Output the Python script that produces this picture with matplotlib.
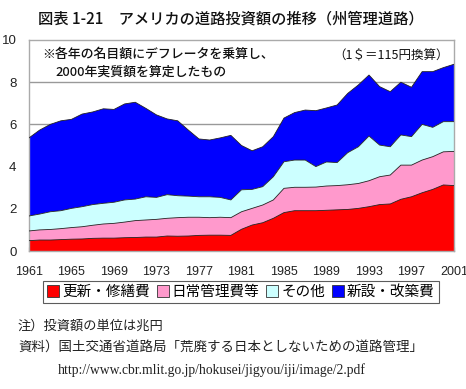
import matplotlib
matplotlib.use("Agg")
import matplotlib.pyplot as plt
from matplotlib.lines import Line2D
import numpy as np

years = list(range(1961, 2002))
# cumulative tops (兆円)
red_top = [0.49, 0.52, 0.52, 0.54, 0.56, 0.57, 0.60, 0.61, 0.61, 0.63, 0.64, 0.66, 0.66, 0.71, 0.70,
           0.71, 0.74, 0.75, 0.75, 0.74, 1.03, 1.23, 1.34, 1.55, 1.82, 1.91, 1.91, 1.91, 1.93, 1.95,
           1.97, 2.02, 2.10, 2.20, 2.23, 2.45, 2.57, 2.76, 2.92, 3.13, 3.10]
pink_top = [0.95, 1.00, 1.02, 1.06, 1.11, 1.15, 1.22, 1.28, 1.31, 1.37, 1.44, 1.47, 1.50, 1.55, 1.58,
            1.60, 1.60, 1.58, 1.60, 1.58, 1.86, 2.02, 2.18, 2.42, 2.97, 3.02, 3.02, 3.03, 3.08, 3.10,
            3.14, 3.20, 3.33, 3.52, 3.60, 4.07, 4.07, 4.31, 4.47, 4.70, 4.72]
cyan_top = [1.66, 1.75, 1.86, 1.91, 2.02, 2.10, 2.20, 2.26, 2.31, 2.42, 2.46, 2.57, 2.54, 2.67, 2.62,
            2.60, 2.57, 2.57, 2.54, 2.42, 2.90, 2.92, 3.05, 3.52, 4.23, 4.31, 4.31, 4.00, 4.22, 4.19,
            4.66, 4.94, 5.45, 5.02, 4.94, 5.50, 5.42, 6.00, 5.86, 6.13, 6.13]
blue_top = [5.36, 5.73, 6.00, 6.17, 6.24, 6.49, 6.59, 6.74, 6.71, 6.97, 7.05, 6.76, 6.45, 6.26, 6.17,
            5.73, 5.31, 5.26, 5.36, 5.48, 5.00, 4.75, 4.94, 5.42, 6.30, 6.56, 6.68, 6.65, 6.78, 6.92,
            7.47, 7.87, 8.34, 7.79, 7.55, 8.00, 7.76, 8.50, 8.50, 8.69, 8.85]

series_names = ["更新・修繕費", "日常管理費等", "その他", "新設・改築費"]
series_colors = ["#FF0000", "#FF99CC", "#CCFFFF", "#0000FF"]
x_ticks = list(range(1961, 2002, 4))
y_ticks = [0, 2, 4, 6, 8, 10]

plt.rcParams['font.family'] = ['Noto Sans CJK JP', 'DejaVu Sans']

fig = plt.figure(figsize=(4.66, 3.89), dpi=100)
W, H = 466, 389
ax = fig.add_axes([29 / W, 1 - 251 / H, (454 - 29) / W, (251 - 40) / H])

x = np.array(years)
tops = [np.array(red_top), np.array(pink_top), np.array(cyan_top), np.array(blue_top)]
bottoms = [np.zeros(len(years))] + tops[:-1]
for i in range(3, -1, -1):
    ax.fill_between(x, bottoms[i], tops[i], facecolor=series_colors[i], edgecolor='none', zorder=2)
for t in tops:
    ax.plot(x, t, color='#222222', lw=0.6, zorder=3)

ax.set_xlim(1961, 2001)
ax.set_ylim(0, 10)
ax.set_yticks(y_ticks)
ax.set_yticklabels([str(v) for v in y_ticks], family='Liberation Sans', fontsize=9.5, color='#222222')
ax.set_xticks(x_ticks)
ax.set_xticklabels([str(v) for v in x_ticks], family='Liberation Sans', fontsize=9, color='#222222')
ax.set_xticks(years, minor=True)
ax.tick_params(axis='y', length=0, pad=9)
ax.tick_params(axis='x', which='both', direction='in', length=3, color='#8B0000', pad=11)
for g in [2, 4, 6, 8]:
    ax.axhline(g, color='#999999', lw=1.0, zorder=1)
for s in ax.spines.values():
    s.set_color('#AAAAAA')
    s.set_linewidth(1.0)


def px_text(px, py, s, **kw):
    fig.text(px / W, 1 - py / H, s, **kw)


px_text(231, 19, "図表 1-21　アメリカの道路投資額の推移（州管理道路）", ha='center', va='center',
        fontsize=11, color='#111111', weight='medium')
px_text(42, 54, "※各年の名目額にデフレータを乗算し、", ha='left', va='center', fontsize=9.3,
        color='#111111', weight='medium')
px_text(55, 72, "2000年実質額を算定したもの", ha='left', va='center', fontsize=9.3,
        color='#111111', weight='medium')
px_text(449, 55, "（1＄＝115円換算）", ha='right', va='center', fontsize=9, color='#111111')

handles = [Line2D([], [], marker='s', linestyle='none', markersize=8,
                  markerfacecolor=c, markeredgecolor='#333333', markeredgewidth=0.6)
           for c in series_colors]
leg = fig.legend(handles, series_names, loc='center', bbox_to_anchor=(241 / W, 1 - 292 / H),
                 ncol=4, frameon=True, fancybox=False, fontsize=10.5, handlelength=0.8,
                 handletextpad=0.2, columnspacing=0.5, borderpad=0.3, borderaxespad=0)
leg.get_frame().set_edgecolor('#333333')
leg.get_frame().set_linewidth(0.8)

px_text(18, 326, "注）投資額の単位は兆円", ha='left', va='center', fontsize=9.5, color='#222222')
px_text(18, 347, "資料）国土交通省道路局「荒廃する日本としないための道路管理」", ha='left', va='center',
        fontsize=9.7, color='#222222')
px_text(58, 370, "http://www.cbr.mlit.go.jp/hokusei/jigyou/iji/image/2.pdf", ha='left', va='center',
        fontsize=9.8, family='Liberation Serif', color='#222222')

fig.savefig("out.png", dpi=100)
